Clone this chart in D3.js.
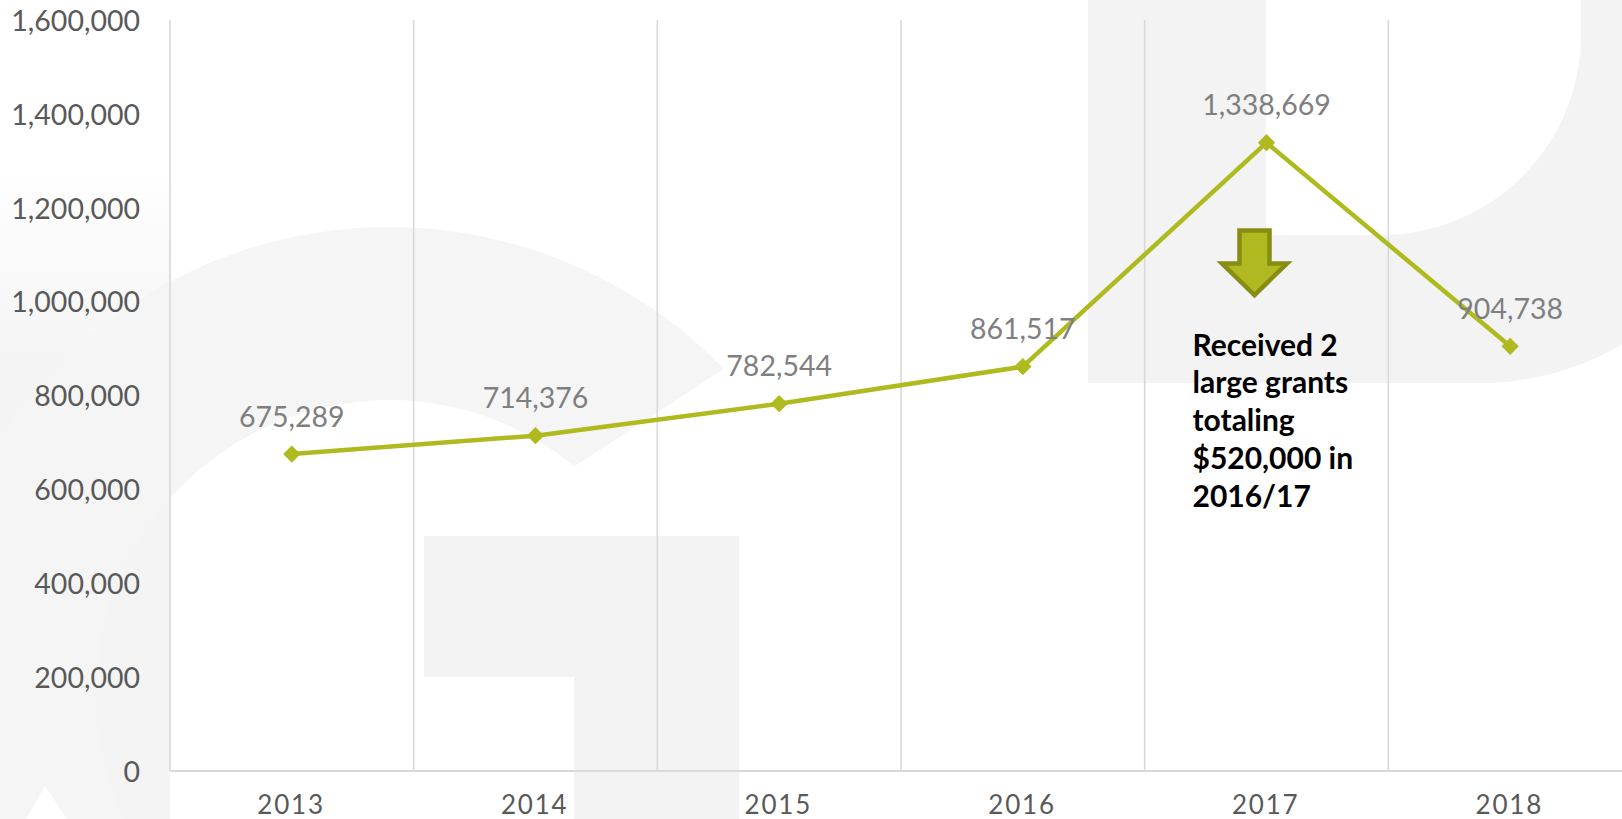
<!DOCTYPE html>
<html>
<head>
<meta charset="utf-8">
<script src="https://cdn.jsdelivr.net/npm/d3@7"></script>
<style>
  body { margin: 0; background: #fff; }
  svg { display: block; font-family: Lato, "Open Sans", sans-serif; }
</style>
</head>
<body>
<div id="svgcontainer"></div>
<script>
/**
 * chart data
 */
var years = ["2013", "2014", "2015", "2016", "2017", "2018"];
var totals = [675289, 714376, 782544, 861517, 1338669, 904738];
var yTicks = [0, 200000, 400000, 600000, 800000, 1000000, 1200000, 1400000, 1600000];
var noteYear = "2017";
var noteLines = ["Received 2", "large grants", "totaling", "$520,000 in", "2016/17"];

var W = 1622, H = 819;
var margin = { top: 20, left: 170, bottom: 48 };
var plotRight = 1632; // plot runs slightly past the picture edge

var svg = d3.select("#svgcontainer")
    .append("svg")
    .attr("width", W)
    .attr("height", H);

/**
 * watermark in the background
 */
var defs = svg.append("defs");
var grad = defs.append("linearGradient")
    .attr("id", "leftfade")
    .attr("x1", 0).attr("y1", 0).attr("x2", 0).attr("y2", 1);
grad.append("stop").attr("offset", "0.2").attr("stop-color", "#ffffff");
grad.append("stop").attr("offset", "0.45").attr("stop-color", "#f4f4f4");

var wm = svg.append("g").attr("class", "watermark");
var grey = "#f3f3f3";

wm.append("rect")
    .attr("x", 0).attr("y", 0).attr("width", 170).attr("height", H)
    .attr("fill", "url(#leftfade)");

// big "G"
var gc = [389, 693], Ro = 466, Ri = 293;
var ring = d3.path();
ring.arc(gc[0], gc[1], Ro, 0, 2 * Math.PI);
ring.moveTo(gc[0] + Ri, gc[1]);
ring.arc(gc[0], gc[1], Ri, 0, 2 * Math.PI);
wm.append("path")
    .attr("d", ring.toString())
    .attr("fill", "#f5f5f5")
    .attr("fill-rule", "evenodd");
wm.append("polygon")
    .attr("points", "569,470 785,329 950,329 950,830 739,830 739,536 569,536")
    .attr("fill", "#ffffff");
wm.append("rect").attr("x", 424).attr("y", 536).attr("width", 315).attr("height", 141).attr("fill", grey);
wm.append("rect").attr("x", 574).attr("y", 536).attr("width", 165).attr("height", 300).attr("fill", grey);
wm.append("polygon")
    .attr("points", "45,786 26,819 67,819")
    .attr("fill", "#ffffff");

// "D" on the right
function roundedBR(x0, y0, x1, y1, r) {
    return "M" + x0 + "," + y0 + "H" + x1 + "V" + (y1 - r) +
        "A" + r + "," + r + " 0 0 1 " + (x1 - r) + "," + y1 + "H" + x0 + "Z";
}
wm.append("path")
    .attr("d", roundedBR(1088, -50, 1760, 383, 280) + roundedBR(1266, -50, 1581, 235, 200))
    .attr("fill", grey)
    .attr("fill-rule", "evenodd");

/**
 * scales
 */
var x = d3.scaleBand()
    .domain(years)
    .range([margin.left, plotRight])
    .padding(0);

var y = d3.scaleLinear()
    .domain([0, 1600000])
    .range([H - margin.bottom, margin.top]);

var bw = x.bandwidth();
var cx = function(yr) { return x(yr) + bw / 2; };

/**
 * vertical gridlines between categories + base line
 */
var bounds = years.map(function(d) { return x(d); });
svg.append("g")
    .selectAll("line")
    .data(bounds)
    .join("line")
    .attr("x1", function(d) { return d; })
    .attr("x2", function(d) { return d; })
    .attr("y1", y(1600000))
    .attr("y2", y(0))
    .style("stroke", "#d9d9d9")
    .style("stroke-width", 1.6);

svg.append("line")
    .attr("x1", margin.left).attr("x2", plotRight)
    .attr("y1", y(0)).attr("y2", y(0))
    .style("stroke", "#d9d9d9")
    .style("stroke-width", 2);

/**
 * axes (labels only)
 */
var yAxis = svg.append("g")
    .attr("class", "yaxis")
    .attr("transform", "translate(140,0)")
    .call(d3.axisLeft(y).tickValues(yTicks).tickSize(0).tickPadding(0)
        .tickFormat(d3.format(",")));
yAxis.select(".domain").remove();
yAxis.selectAll("text")
    .attr("dy", "0.36em")
    .style("font-family", "Lato, 'Open Sans', sans-serif")
    .style("font-size", "28.5px")
    .style("fill", "#595959");

var xAxis = svg.append("g")
    .attr("class", "xaxis")
    .attr("transform", "translate(0," + y(0) + ")")
    .call(d3.axisBottom(x).tickSize(0).tickPadding(0));
xAxis.select(".domain").remove();
xAxis.selectAll("text")
    .attr("y", 42.5)
    .attr("dy", 0)
    .attr("x", -0.8)
    .style("font-family", "Lato, 'Open Sans', sans-serif")
    .style("font-size", "26px")
    .style("letter-spacing", "1.8px")
    .style("fill", "#595959");

/**
 * the line with diamond markers
 */
var data = years.map(function(d, i) { return { year: d, value: totals[i] }; });
var green = "#afba1f";

svg.append("path")
    .datum(data)
    .attr("fill", "none")
    .attr("stroke", green)
    .attr("stroke-width", 4.5)
    .attr("stroke-linejoin", "round")
    .attr("d", d3.line()
        .x(function(d) { return cx(d.year); })
        .y(function(d) { return y(d.value); }));

svg.append("g")
    .selectAll("path")
    .data(data)
    .join("path")
    .attr("d", d3.symbol(d3.symbolSquare, 150))
    .attr("transform", function(d) {
        return "translate(" + cx(d.year) + "," + y(d.value) + ") rotate(45)";
    })
    .attr("fill", green);

/**
 * value labels
 */
svg.append("g")
    .selectAll("text")
    .data(data)
    .join("text")
    .attr("x", function(d) { return cx(d.year); })
    .attr("y", function(d) { return y(d.value) - 27.5; })
    .attr("text-anchor", "middle")
    .style("font-size", "28.5px")
    .style("fill", "#7f7f7f")
    .text(function(d) { return d3.format(",")(d.value); });

/**
 * annotation: arrow + note
 */
var ax = cx(noteYear) - 12;
var arrowPts = [
    [ax - 15, 230.5], [ax + 15, 230.5], [ax + 15, 263.5], [ax + 32.5, 263.5],
    [ax, 295], [ax - 32.5, 263.5], [ax - 15, 263.5]
];
svg.append("polygon")
    .attr("points", arrowPts.map(function(p) { return p.join(","); }).join(" "))
    .attr("fill", "#b1b921")
    .attr("stroke", "#878c12")
    .attr("stroke-width", 4.5)
    .attr("stroke-linejoin", "miter");

svg.append("g")
    .selectAll("text")
    .data(noteLines)
    .join("text")
    .attr("x", cx(noteYear) - 74)
    .attr("y", function(d, i) { return 355.5 + i * 37.8; })
    .style("font-size", "30px")
    .style("font-weight", "bold")
    .style("fill", "#000")
    .text(function(d) { return d; });
</script>
</body>
</html>
